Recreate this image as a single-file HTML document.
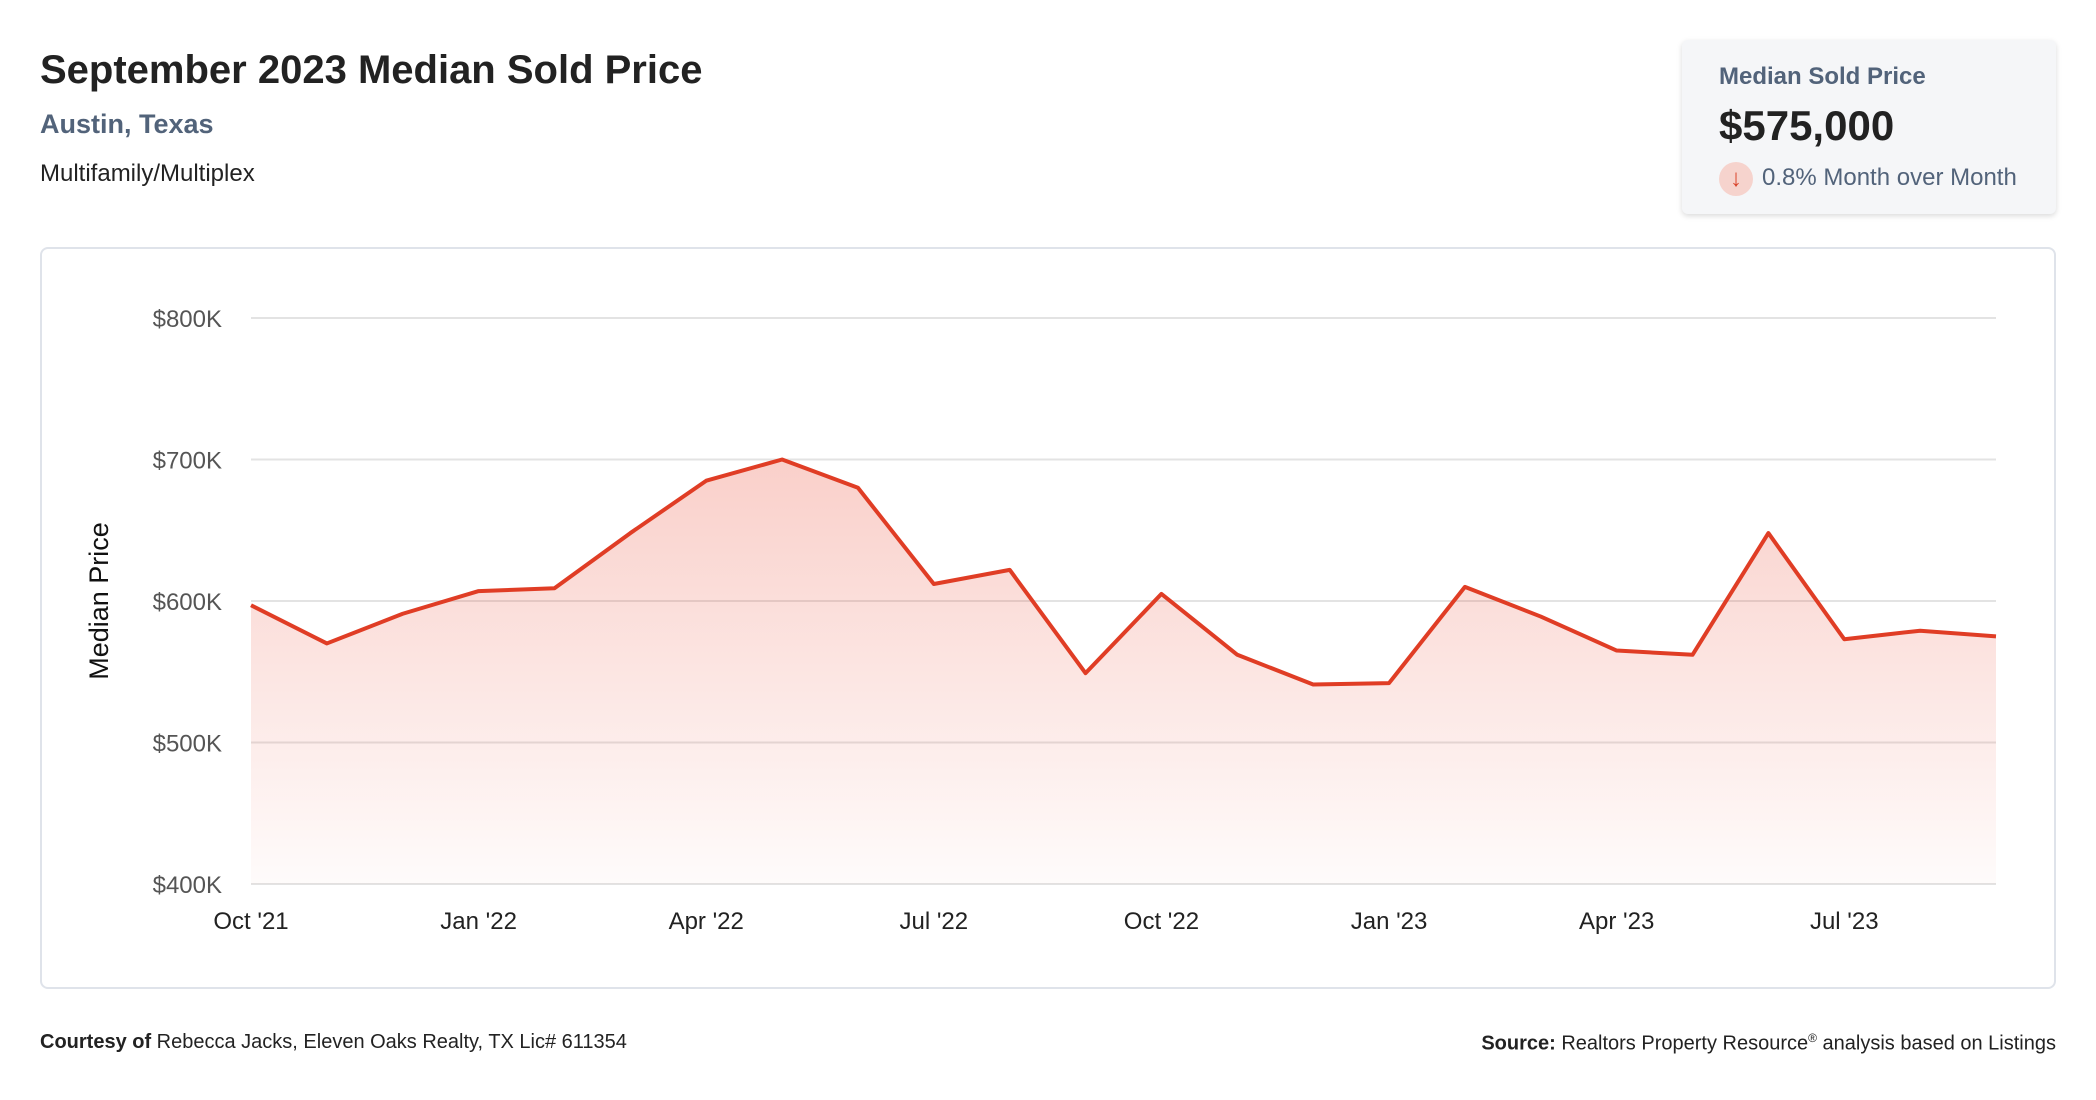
<!DOCTYPE html>
<html><head><meta charset="utf-8">
<style>
body{margin:0;width:2096px;height:1100px;background:#fff;font-family:"Liberation Sans",sans-serif;position:relative;overflow:hidden}
.abs{position:absolute;white-space:nowrap}
</style></head><body>
<div class="abs" style="left:40px;top:48px;font-size:40px;font-weight:bold;color:#222">September 2023 Median Sold Price</div>
<div class="abs" style="left:40px;top:109px;font-size:27px;font-weight:bold;color:#52637a">Austin, Texas</div>
<div class="abs" style="left:40px;top:160px;font-size:24px;color:#222">Multifamily/Multiplex</div>
<div class="abs" style="left:1682px;top:40px;width:374px;height:174px;background:#f5f6f8;border-radius:6px;box-shadow:0 2px 6px rgba(0,0,0,0.15)">
  <div class="abs" style="left:37px;top:23px;font-size:24px;font-weight:bold;color:#52637a">Median Sold Price</div>
  <div class="abs" style="left:37px;top:62px;font-size:42px;font-weight:bold;color:#222">$575,000</div>
  <div class="abs" style="left:37px;top:122px;width:34px;height:34px;border-radius:50%;background:#f6d3cd;color:#d9442c;font-size:24px;text-align:center;line-height:34px">↓</div>
  <div class="abs" style="left:80px;top:124px;font-size:24px;color:#52637a">0.8% Month over Month</div>
</div>
<div class="abs" style="left:40px;top:247px;width:2012px;height:738px;border:2px solid #dfe3ea;border-radius:8px"></div>
<svg id="chart" class="abs" style="left:0;top:0" width="2096" height="1100">
<defs><linearGradient id="g" x1="0" y1="0" x2="0" y2="1"><stop offset="0" stop-color="#e8412a" stop-opacity="0.25"/><stop offset="1" stop-color="#e8412a" stop-opacity="0.02"/></linearGradient></defs>
<text x="0" y="0" transform="translate(108,601) rotate(-90)" text-anchor="middle" font-size="27" fill="#111" font-family="Liberation Sans, sans-serif">Median Price</text>
</svg>
<div class="abs" style="left:40px;top:1031px;font-size:20px;color:#222"><b>Courtesy of</b> Rebecca Jacks, Eleven Oaks Realty, TX Lic# 611354</div>
<div class="abs" style="right:40px;top:1031px;font-size:20px;color:#222"><b>Source:</b> Realtors Property Resource<sup style="font-size:12px">®</sup> analysis based on Listings</div>
<script>
const months=["Oct '21","Nov '21","Dec '21","Jan '22","Feb '22","Mar '22","Apr '22","May '22","Jun '22","Jul '22","Aug '22","Sep '22","Oct '22","Nov '22","Dec '22","Jan '23","Feb '23","Mar '23","Apr '23","May '23","Jun '23","Jul '23","Aug '23","Sep '23"];
const prices=[597,570,591,607,609,648,685,700,680,612,622,549,605,562,541,542,610,589,565,562,648,573,579,575];
const yTicks=[400,500,600,700,800];
const xTickIdx=[0,3,6,9,12,15,18,21];
const svg=document.getElementById('chart');const NS='http://www.w3.org/2000/svg';
const x0=251,x1=1996,y0=884,y1=318;
const X=i=>x0+(x1-x0)*i/(months.length-1);
const Y=v=>y0-(v-400)/(800-400)*(y0-y1);
function mk(t,a){const e=document.createElementNS(NS,t);for(const k in a)e.setAttribute(k,a[k]);svg.appendChild(e);return e;}
yTicks.forEach(v=>{
 const l=mk('line',{x1:x0,x2:x1,y1:Y(v),y2:Y(v),stroke:'#e3e3e3','stroke-width':2});
 
 
 const t=mk('text',{x:222,y:Y(v)+9,'text-anchor':'end','font-size':24,fill:'#555','font-family':'Liberation Sans, sans-serif'});
 t.textContent='$'+v+'K';
 
 
});
xTickIdx.forEach(i=>{
 const t=mk('text',{x:X(i),y:929,'text-anchor':'middle','font-size':24,fill:'#222','font-family':'Liberation Sans, sans-serif'});
 t.textContent=months[i];
 
 
});
let d=prices.map((v,i)=>(i?'L':'M')+X(i)+','+Y(v)).join(' ');
const a=mk('path',{d:d+` L${X(prices.length-1)},${y0} L${x0},${y0} Z`,fill:'url(#g)'});


const p=mk('path',{d:d,fill:'none',stroke:'#e03d25','stroke-width':4,'stroke-linejoin':'round'});


</script>
</body></html>
